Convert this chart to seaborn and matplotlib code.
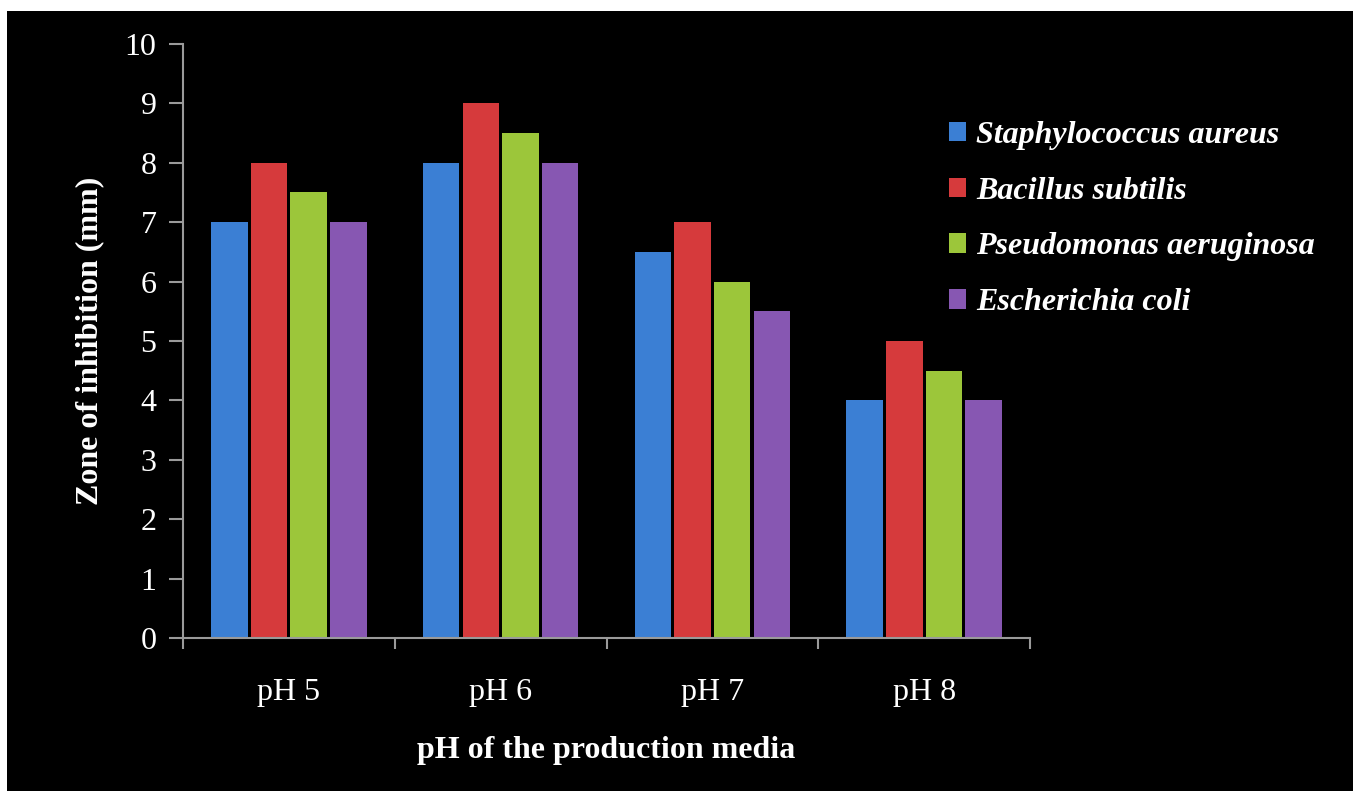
import matplotlib
matplotlib.use("Agg")
import matplotlib.pyplot as plt
import seaborn as sns
import pandas as pd
from matplotlib.patches import Rectangle

categories = ["pH 5", "pH 6", "pH 7", "pH 8"]
species = ["Staphylococcus aureus", "Bacillus subtilis", "Pseudomonas aeruginosa", "Escherichia coli"]
s_aureus = [7.0, 8.0, 6.5, 4.0]
b_subtilis = [8.0, 9.0, 7.0, 5.0]
p_aeruginosa = [7.5, 8.5, 6.0, 4.5]
e_coli = [7.0, 8.0, 5.5, 4.0]
colors = ["#3b7fd4", "#d63a3c", "#9cc63a", "#8757b2"]
yticks = list(range(0, 11))

rows = []
for sp, vals in zip(species, [s_aureus, b_subtilis, p_aeruginosa, e_coli]):
    for c, v in zip(categories, vals):
        rows.append({"pH": c, "Species": sp, "Zone": v})
df = pd.DataFrame(rows)

sns.set_theme(style="white")
plt.rcParams['font.family'] = ['Liberation Serif', 'DejaVu Serif']

fig = plt.figure(figsize=(13.53, 7.91), dpi=100)
fig.patch.set_facecolor("white")
fig.patches.append(Rectangle((7/1353, 0), 1, (791-11)/791, transform=fig.transFigure,
                             facecolor="black", edgecolor="none", zorder=-10))
ax = fig.add_axes([183/1353, 1-638/791, (1030-183)/1353, (638-44)/791])
ax.set_facecolor("black")

sns.barplot(data=df, x="pH", y="Zone", hue="Species", hue_order=species,
            palette=colors, width=0.75, gap=0.08, ax=ax, errorbar=None,
            saturation=1, edgecolor="none")

ax.set_ylim(0, 10)
ax.set_xlim(-0.5, 3.5)
ax.set_yticks(yticks)
ax.set_yticklabels([str(t) for t in yticks])
ax.tick_params(axis="y", colors="#9a9a9a", labelcolor="white", labelsize=23,
               direction="out", length=10, width=1.5, left=True, pad=9)
ax.set_xticks(range(4))
ax.set_xticklabels(categories)
ax.tick_params(axis="x", which="major", length=0, labelcolor="white", labelsize=23, pad=29)
ax.set_xticks([-0.5, 0.5, 1.5, 2.5, 3.5], minor=True)
ax.tick_params(axis="x", which="minor", colors="#9a9a9a", direction="out",
               length=8, width=1.5, bottom=True)

for s in ["top", "right"]:
    ax.spines[s].set_visible(False)
for s in ["left", "bottom"]:
    ax.spines[s].set_color("#9a9a9a")
    ax.spines[s].set_linewidth(1.5)

ax.set_ylabel("Zone of inhibition (mm)", color="white", fontsize=23, fontweight="bold", labelpad=15)
ax.set_xlabel("pH of the production media", color="white", fontsize=23, fontweight="bold", labelpad=21)

handles, labels = ax.get_legend_handles_labels()
leg = ax.legend(handles, labels, loc="upper left", bbox_to_anchor=(920/1353, 1-92/791),
                bbox_transform=fig.transFigure, frameon=False, handlelength=0.55,
                handleheight=0.55, handletextpad=0.3, labelspacing=0.84,
                prop={"family": "Liberation Serif", "size": 23, "weight": "bold", "style": "italic"})
for t in leg.get_texts():
    t.set_color("white")

fig.savefig("out.png", dpi=100, facecolor=fig.get_facecolor())
